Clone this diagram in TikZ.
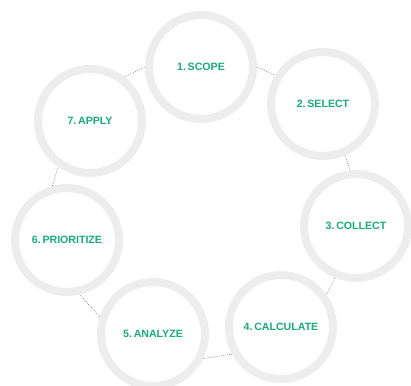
\documentclass[tikz,border=0pt]{standalone}
\usepackage{fontspec}
\setmainfont{Liberation Sans}[BoldFont={Liberation Sans Bold}]
\usepackage{tikz}
\usetikzlibrary{positioning}

\definecolor{ringgray}{RGB}{237,237,237}
\definecolor{stepgreen}{RGB}{24,172,124}
\definecolor{linkgray}{RGB}{120,120,120}

\begin{document}
\begin{tikzpicture}[x=1pt, y=-1pt,
    ring/.style={circle, draw=ringgray, line width=8pt, fill=white,
        minimum size=104pt, inner sep=0pt,
        text=stepgreen, font=\bfseries\fontsize{10.6}{12}\selectfont},
    link/.style={draw=linkgray, line width=0.6pt, dash pattern=on 0.8pt off 1.2pt}]
    \useasboundingbox (0,0) rectangle (411,385);

    \foreach \name/\pos/\txt in {scope/{201,67}/1.\,SCOPE, select/{323,104}/2.\,SELECT,
        collect/{356,226}/3.\,COLLECT, calculate/{281,327}/4.\,CALCULATE,
        analyze/{153,334}/5.\,ANALYZE, prioritize/{67,240}/6.\,PRIORITIZE,
        apply/{90,121}/7.\,APPLY}
        \node[ring] (\name) at (\pos) {\txt};

    % dotted links round the cycle
    \foreach \a/\aa/\b/\bb in {apply/52/scope/180, scope/0/select/149,
        select/-67/collect/96, collect/-112/calculate/36,
        calculate/209/analyze/-26, analyze/162/prioritize/-77,
        prioritize/105/apply/235}
        \draw[link] (\a.\aa) -- (\b.\bb);
\end{tikzpicture}
\end{document}
